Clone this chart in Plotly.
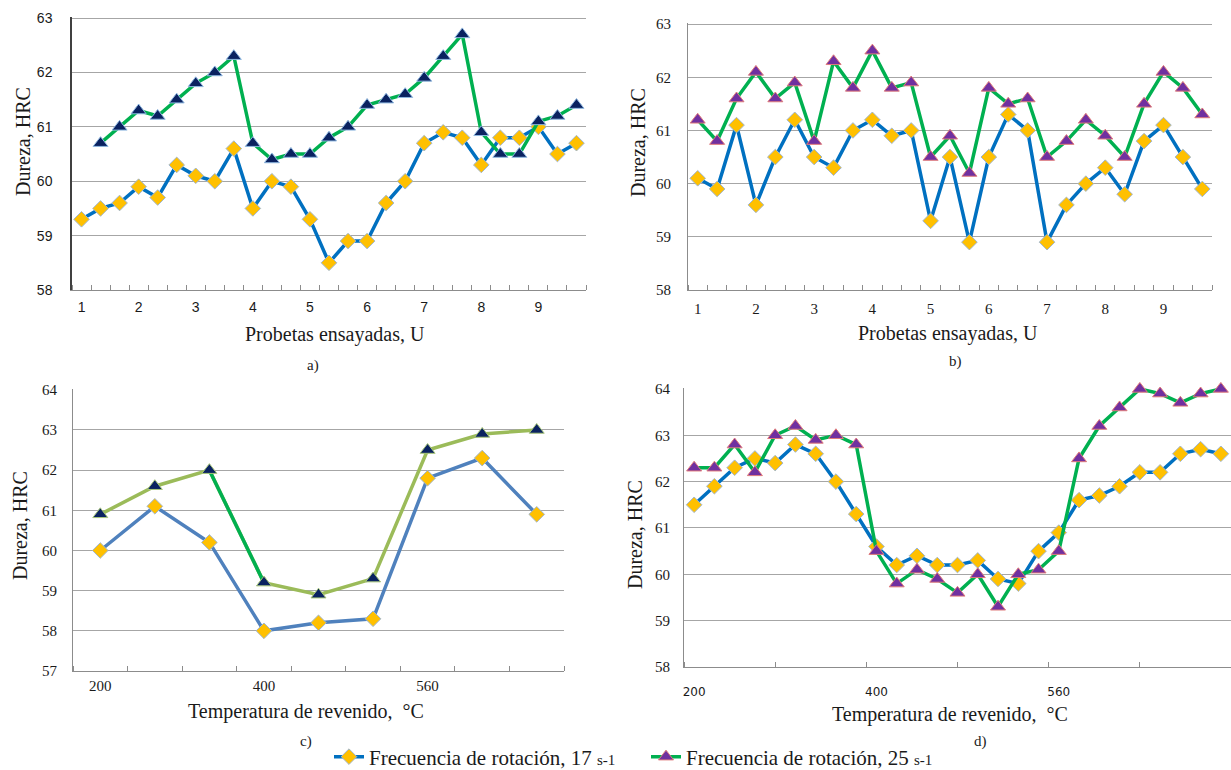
import plotly.graph_objects as go

# ---------------- data ----------------
# a) hardness vs. tested specimens
probetas_labels = ["1", "2", "3", "4", "5", "6", "7", "8", "9"]
a_17 = [59.3, 59.5, 59.6, 59.9, 59.7, 60.3, 60.1, 60.0, 60.6, 59.5, 60.0, 59.9, 59.3, 58.5,
        58.9, 58.9, 59.6, 60.0, 60.7, 60.9, 60.8, 60.3, 60.8, 60.8, 61.0, 60.5, 60.7]
a_25 = [None, 60.7, 61.0, 61.3, 61.2, 61.5, 61.8, 62.0, 62.3, 60.7, 60.4, 60.5, 60.5, 60.8,
        61.0, 61.4, 61.5, 61.6, 61.9, 62.3, 62.7, 60.9, 60.5, 60.5, 61.1, 61.2, 61.4]
# b) hardness vs. tested specimens
b_17 = [60.1, 59.9, 61.1, 59.6, 60.5, 61.2, 60.5, 60.3, 61.0, 61.2, 60.9, 61.0, 59.3, 60.5,
        58.9, 60.5, 61.3, 61.0, 58.9, 59.6, 60.0, 60.3, 59.8, 60.8, 61.1, 60.5, 59.9]
b_25 = [61.2, 60.8, 61.6, 62.1, 61.6, 61.9, 60.8, 62.3, 61.8, 62.5, 61.8, 61.9, 60.5, 60.9,
        60.2, 61.8, 61.5, 61.6, 60.5, 60.8, 61.2, 60.9, 60.5, 61.5, 62.1, 61.8, 61.3]
# c) hardness vs. tempering temperature
temp_labels = ["200", "400", "560"]
c_17 = [60.0, 61.1, 60.2, 58.0, 58.2, 58.3, 61.8, 62.3, 60.9]
c_25 = [60.9, 61.6, 62.0, 59.2, 58.9, 59.3, 62.5, 62.9, 63.0]
# d) hardness vs. tempering temperature
d_17 = [61.5, 61.9, 62.3, 62.5, 62.4, 62.8, 62.6, 62.0, 61.3, 60.6, 60.2, 60.4, 60.2, 60.2,
        60.3, 59.9, 59.8, 60.5, 60.9, 61.6, 61.7, 61.9, 62.2, 62.2, 62.6, 62.7, 62.6]
d_25 = [62.3, 62.3, 62.8, 62.2, 63.0, 63.2, 62.9, 63.0, 62.8, 60.5, 59.8, 60.1, 59.9, 59.6,
        60.0, 59.3, 60.0, 60.1, 60.5, 62.5, 63.2, 63.6, 64.0, 63.9, 63.7, 63.9, 64.0]

name17 = "Frecuencia de rotación, 17 <span style='font-size:15px'>s-1</span>"
name25 = "Frecuencia de rotación, 25 <span style='font-size:15px'>s-1</span>"

# ---------------- styling ----------------
W, H = 1231, 770
SERIF = "Liberation Serif, Times New Roman, serif"
SANS = "Liberation Sans, Arial, sans-serif"
BLUE, GREEN = "#0070c0", "#00b050"
BLUE_C, OLIVE_C = "#4f81bd", "#9bbb59"
GOLD = "#ffc000"
NAVY, PURPLE = "#0a2260", "#7030a0"
GRID = "#a6a6a6"
TXT = "#1a1a1a"


def px(x):
    return x / W


def py(y):
    return 1 - y / H


fig = go.Figure()


def idx(vals):
    return list(range(len(vals)))


def diamond_trace(vals, xa, ya, color=BLUE, legend=None):
    return go.Scatter(
        x=idx(vals), y=vals, xaxis=xa, yaxis=ya, mode="lines+markers",
        line=dict(color=color, width=3.5),
        marker=dict(symbol="diamond", size=12, color=GOLD, line=dict(color="#9fb6d0", width=1)),
        name=name17, showlegend=legend is not None, legend=legend or "legend",
        connectgaps=False, cliponaxis=False)


def tri_trace(vals, xa, ya, color=GREEN, fill=NAVY, edge="#8fb8e0", legend=None):
    return go.Scatter(
        x=idx(vals), y=vals, xaxis=xa, yaxis=ya, mode="lines+markers",
        line=dict(color=color, width=3.5),
        marker=dict(symbol="triangle-up", size=13, color=fill, line=dict(color=edge, width=1)),
        name=name25, showlegend=legend is not None, legend=legend or "legend",
        connectgaps=False, cliponaxis=False)


# a)
fig.add_trace(diamond_trace(a_17, "x", "y"))
fig.add_trace(tri_trace(a_25, "x", "y"))
# b)
fig.add_trace(diamond_trace(b_17, "x2", "y2", legend="legend"))
fig.add_trace(tri_trace(b_25, "x2", "y2", fill=PURPLE, edge="#e07a7a", legend="legend2"))
# c)
fig.add_trace(go.Scatter(x=idx(c_17), y=c_17, xaxis="x3", yaxis="y3", mode="lines+markers",
                         line=dict(color=BLUE_C, width=3.5),
                         marker=dict(symbol="diamond", size=12, color=GOLD,
                                     line=dict(color="#9fb6d0", width=1)),
                         showlegend=False, cliponaxis=False))
fig.add_trace(go.Scatter(x=idx(c_25), y=c_25, xaxis="x3", yaxis="y3", mode="lines",
                         line=dict(color=OLIVE_C, width=3.5), showlegend=False))
# the steep drop segment drawn in brighter green
fig.add_trace(go.Scatter(x=idx(c_25)[2:4], y=c_25[2:4], xaxis="x3", yaxis="y3", mode="lines",
                         line=dict(color=GREEN, width=3.5), showlegend=False))
fig.add_trace(go.Scatter(x=idx(c_25), y=c_25, xaxis="x3", yaxis="y3", mode="markers",
                         marker=dict(symbol="triangle-up", size=13, color=NAVY,
                                     line=dict(color="#a9c77a", width=1)),
                         showlegend=False, cliponaxis=False))
# d)
fig.add_trace(diamond_trace(d_17, "x4", "y4"))
fig.add_trace(tri_trace(d_25, "x4", "y4", fill=PURPLE, edge="#e07a7a"))


def xaxis(dom, n, labels, step, tickfont, anchor, standoff=0, minor_step=1.0):
    return dict(domain=[px(dom[0]), px(dom[1])], range=[-0.5, n - 0.5], anchor=anchor,
                tickmode="array", tickvals=[i * step for i in range(len(labels))],
                ticktext=labels, ticks="", showgrid=False, zeroline=False,
                showline=True, linecolor="#8c8c8c", linewidth=1, automargin=False,
                tickfont=tickfont, ticklabelstandoff=standoff,
                minor=dict(ticks="inside", ticklen=5, tickcolor="#8c8c8c", tickwidth=1,
                           tickmode="linear", tick0=-0.5, dtick=minor_step, showgrid=False))


def yaxis(dom, rng, tickfont, anchor, linecolor="#8c8c8c", linewidth=1, standoff=14):
    return dict(domain=[py(dom[1]), py(dom[0])], range=[rng[0], rng[1] + 0.02],
                dtick=1, tick0=rng[0], automargin=False,
                showgrid=True, gridcolor=GRID, gridwidth=1, zeroline=False,
                showline=True, linecolor=linecolor, linewidth=linewidth, ticks="",
                tickfont=tickfont, ticklabelstandoff=standoff, anchor=anchor)


fig.update_layout(
    width=W, height=H, margin=dict(l=0, r=0, t=0, b=0, pad=0, autoexpand=False),
    paper_bgcolor="white", plot_bgcolor="white",
    xaxis=xaxis((72, 586), len(a_17), probetas_labels, 3,
                dict(family=SANS, size=14, color=TXT), "y", standoff=4),
    yaxis=yaxis((17, 290), [58, 63], dict(family=SANS, size=14, color=TXT), "x",
                linecolor="#404040", linewidth=1.5, standoff=15),
    xaxis2=xaxis((688, 1212), len(b_17), probetas_labels, 3,
                 dict(family=SERIF, size=15, color=TXT), "y2", standoff=5),
    yaxis2=yaxis((23, 290), [58, 63], dict(family=SERIF, size=15, color=TXT), "x2",
                 standoff=13),
    xaxis3=xaxis((73, 564), len(c_17), temp_labels, 3,
                 dict(family=SERIF, size=15, color=TXT), "y3", standoff=1),
    yaxis3=yaxis((389, 671), [57, 64], dict(family=SERIF, size=15, color=TXT), "x3",
                 standoff=12),
    xaxis4=xaxis((684, 1231), len(d_17), temp_labels, 9,
                 dict(family="DejaVu Sans, Verdana, sans-serif", size=12, color=TXT), "y4",
                 standoff=14, minor_step=4.5),
    yaxis4=yaxis((388, 667), [58, 64], dict(family=SERIF, size=15, color=TXT), "x4",
                 standoff=10),
    legend=dict(orientation="h", x=px(329), xanchor="left", y=py(757), yanchor="middle",
                font=dict(family=SERIF, size=21, color=TXT), bgcolor="rgba(0,0,0,0)"),
    legend2=dict(orientation="h", x=px(646), xanchor="left", y=py(757), yanchor="middle",
                 font=dict(family=SERIF, size=21, color=TXT), bgcolor="rgba(0,0,0,0)"),
)

# axis titles and panel letters
ann = []
for (x, y) in [(23, 142), (638, 143), (20, 526), (635, 535)]:
    ann.append(dict(text="Dureza, HRC", x=px(x), y=py(y), textangle=-90))
for (x, y, t) in [(335, 334, "Probetas ensayadas, U"), (948, 333, "Probetas ensayadas, U"),
                  (306, 711, "Temperatura de revenido,  °C"),
                  (950, 714, "Temperatura de revenido,  °C")]:
    ann.append(dict(text=t, x=px(x), y=py(y)))
for a in ann:
    a.update(xref="paper", yref="paper", showarrow=False, xanchor="center", yanchor="middle",
             font=dict(family=SERIF, size=20, color=TXT))
letters = []
for (x, y, t) in [(313, 365, "a)"), (955, 361, "b)"), (306, 741, "c)"), (980, 741, "d)")]:
    letters.append(dict(text=t, x=px(x), y=py(y), xref="paper", yref="paper", showarrow=False,
                        xanchor="center", yanchor="middle",
                        font=dict(family=SERIF, size=15, color=TXT)))
fig.update_layout(annotations=ann + letters)

fig.write_html("out.html", config={"displayModeBar": False},
               post_script="document.body.style.margin='0';")
